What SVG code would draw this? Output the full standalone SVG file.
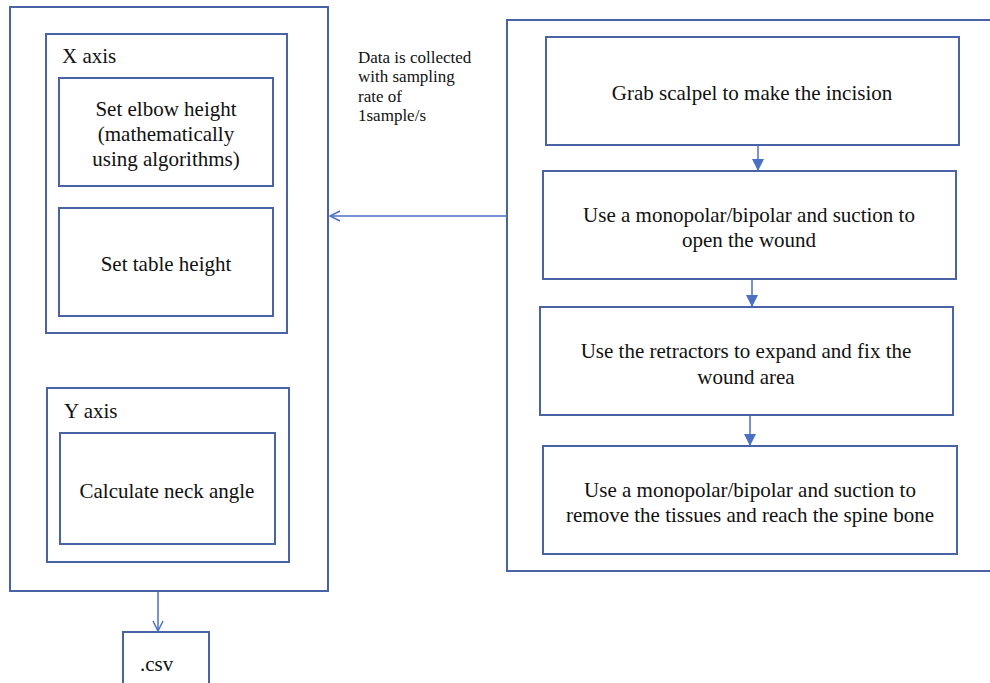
<svg xmlns="http://www.w3.org/2000/svg" width="990" height="683" viewBox="0 0 990 683">
<defs>
<style>
.box{fill:#fff;stroke:#4a62a6;stroke-width:2}
.t{font-size:21px;fill:#111}
.tm{text-anchor:middle}
.s{font-size:17px;fill:#111}
.c{fill:none;stroke:#4a6fc4;stroke-width:1.5}
</style>
<marker id="open" viewBox="0 0 12 12" refX="11" refY="6" markerWidth="12" markerHeight="12" markerUnits="userSpaceOnUse" orient="auto">
<path d="M1,1 L11,6 L1,11" fill="none" stroke="#4a6fc4" stroke-width="1.5"/>
</marker>
<marker id="fill" viewBox="0 0 12 12" refX="11" refY="6" markerWidth="12" markerHeight="12" markerUnits="userSpaceOnUse" orient="auto">
<path d="M0,0 L12,6 L0,12 Z" fill="#4a6fc4"/>
</marker>
</defs>
<rect width="990" height="683" fill="#fff"/>
<g font-family="'Liberation Serif', 'DejaVu Serif', serif">
<g id="left-outer"><rect class="box" x="10" y="7" width="318" height="584"/></g>
<g id="x-axis"><rect class="box" x="46" y="34" width="241" height="299"/><text class="t" x="62" y="63">X axis</text></g>
<g id="elbow"><rect class="box" x="59" y="78" width="214" height="108"/>
<text class="t tm" x="166" y="116">Set elbow height</text>
<text class="t tm" x="166" y="141">(mathematically</text>
<text class="t tm" x="166" y="166">using algorithms)</text></g>
<g id="table"><rect class="box" x="59" y="208" width="214" height="108"/><text class="t tm" x="166" y="271">Set table height</text></g>
<g id="y-axis"><rect class="box" x="47" y="388" width="242" height="174"/><text class="t" x="64" y="418">Y axis</text></g>
<g id="neck"><rect class="box" x="60" y="433" width="215" height="111"/><text class="t tm" x="167" y="498">Calculate neck angle</text></g>
<g id="csv"><rect class="box" x="123" y="632" width="86" height="60"/><text class="t" x="140" y="671">.csv</text></g>
<g id="note"><text class="s"><tspan x="358" y="63">Data is collected</tspan><tspan x="358" y="82">with sampling</tspan><tspan x="358" y="102">rate of</tspan><tspan x="358" y="121">1sample/s</tspan></text></g>
<g id="right-outer"><rect class="box" x="507" y="20" width="500" height="551"/></g>
<g id="step1"><rect class="box" x="546" y="37" width="413" height="108"/><text class="t tm" x="752" y="100">Grab scalpel to make the incision</text></g>
<g id="step2"><rect class="box" x="543" y="171" width="413" height="108"/>
<text class="t tm" x="749" y="222">Use a monopolar/bipolar and suction to</text>
<text class="t tm" x="749" y="247">open the wound</text></g>
<g id="step3"><rect class="box" x="540" y="307" width="413" height="108"/>
<text class="t tm" x="746" y="358">Use the retractors to expand and fix the</text>
<text class="t tm" x="746" y="384">wound area</text></g>
<g id="step4"><rect class="box" x="543" y="446" width="414" height="108"/>
<text class="t tm" x="750" y="497">Use a monopolar/bipolar and suction to</text>
<text class="t tm" x="750" y="522">remove the tissues and reach the spine bone</text></g>
</g>
<g id="connectors">
<line class="c" x1="507" y1="216" x2="330" y2="216" marker-end="url(#open)"/>
<line class="c" x1="158" y1="592" x2="158" y2="631" marker-end="url(#open)"/>
<line class="c" x1="758" y1="146" x2="758" y2="170" marker-end="url(#fill)"/>
<line class="c" x1="752" y1="280" x2="752" y2="306" marker-end="url(#fill)"/>
<line class="c" x1="750" y1="416" x2="750" y2="445" marker-end="url(#fill)"/>
</g>
</svg>
